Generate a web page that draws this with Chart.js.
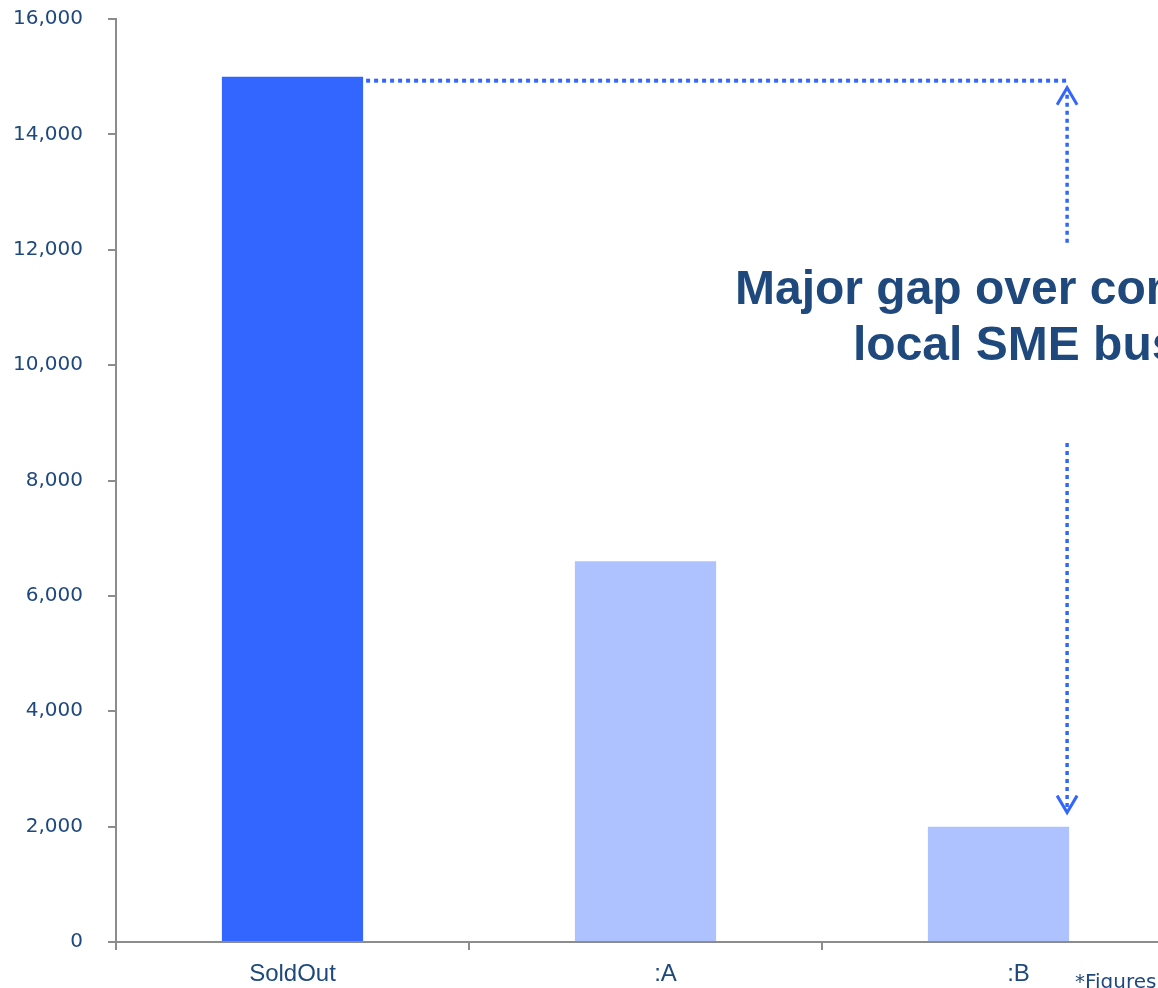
<!DOCTYPE html>
<html>
<head>
<meta charset="utf-8">
<script src="https://cdn.jsdelivr.net/npm/chart.js@4"></script>
<style>
  html, body { margin: 0; padding: 0; background: #fff; overflow: hidden; }
  #wrap { width: 1158px; height: 988px; overflow: hidden; }
</style>
</head>
<body>
<div id="wrap"><canvas id="myChart" width="1200" height="988"></canvas></div>
<script>
var categories = ['SoldOut', '      :A', '      :B'];
var values = [15000, 6600, 2000];
var barColors = ['#3366FF', '#ADC2FF', '#ADC2FF'];
var yMax = 16000;
var yStep = 2000;
var noteLines = ['Major gap over competitors', 'local SME businesses'];
var footnote = '*Figures are estimates';

var textBlue = '#1F497D';
var lineBlue = '#3366FF';

// dotted gap marker + callout text
var gapPlugin = {
  id: 'gapPlugin',
  afterDatasetsDraw: function(chart) {
    var c = chart.ctx;
    var y = chart.scales.y;
    var bars = chart.getDatasetMeta(0).data;
    var xStart = bars[0].x + bars[0].width / 2 + 3;
    var xLine = bars[2].x + bars[2].width / 2 - 2;
    var yTop = y.getPixelForValue(values[0]) + 4;
    var yBot = y.getPixelForValue(values[2]) - 14;

    c.save();
    c.strokeStyle = lineBlue;
    c.lineWidth = 4;
    c.setLineDash([4, 4]);
    c.beginPath();
    c.moveTo(xStart, yTop);
    c.lineTo(xLine, yTop);
    c.stroke();

    c.lineWidth = 3.5;
    c.beginPath();
    c.moveTo(xLine, yTop + 14);
    c.lineTo(xLine, y.getPixelForValue(12100));
    c.moveTo(xLine, y.getPixelForValue(8650));
    c.lineTo(xLine, yBot - 2);
    c.stroke();

    // arrow heads
    c.setLineDash([]);
    c.lineWidth = 3;
    c.lineJoin = 'miter';
    c.beginPath();
    c.moveTo(xLine - 10, yTop + 24);
    c.lineTo(xLine, yTop + 7);
    c.lineTo(xLine + 10, yTop + 24);
    c.moveTo(xLine - 10, yBot - 17);
    c.lineTo(xLine, yBot);
    c.lineTo(xLine + 10, yBot - 17);
    c.stroke();

    c.fillStyle = textBlue;
    c.font = 'bold 48px "Liberation Sans", Arial, sans-serif';
    c.textAlign = 'left';
    c.textBaseline = 'alphabetic';
    c.fillText(noteLines[0], 735, 304);
    c.fillText(noteLines[1], 853, 360);

    c.font = '20px "DejaVu Sans", Verdana, sans-serif';
    c.fillText(footnote, 1075, 988);
    c.restore();
  }
};

var ctx = document.getElementById('myChart').getContext('2d');
var myChart = new Chart(ctx, {
  type: 'bar',
  data: {
    labels: categories,
    datasets: [{
      data: values,
      backgroundColor: barColors,
      borderWidth: 0,
      barPercentage: 0.4,
      categoryPercentage: 1.0
    }]
  },
  options: {
    responsive: false,
    animation: false,
    layout: { padding: { top: 19, right: 25, left: 0, bottom: 0 } },
    plugins: {
      legend: { display: false },
      tooltip: { enabled: false }
    },
    scales: {
      x: {
        offset: true,
        grid: {
          offset: true,
          drawOnChartArea: false,
          drawTicks: true,
          tickLength: 8,
          color: '#8C8C8C',
          lineWidth: 2
        },
        border: { color: '#8C8C8C', width: 2 },
        ticks: {
          color: textBlue,
          font: { family: '"Liberation Sans", Arial, sans-serif', size: 24 },
          padding: 10,
          maxRotation: 0
        },
        afterFit: function(scale) { scale.height = 46; }
      },
      y: {
        min: 0,
        max: yMax,
        grid: {
          drawOnChartArea: false,
          drawTicks: true,
          tickLength: 8,
          color: '#8C8C8C',
          lineWidth: 2
        },
        border: { color: '#8C8C8C', width: 2 },
        ticks: {
          stepSize: yStep,
          color: textBlue,
          padding: 25,
          font: { family: '"DejaVu Sans", Verdana, sans-serif', size: 20 },
          callback: function(v) { return v.toLocaleString('en-US'); }
        },
        afterFit: function(scale) {
          scale.width = 116;
          scale.paddingTop = 0;
          scale.paddingBottom = 0;
        }
      }
    }
  },
  plugins: [gapPlugin]
});
</script>
</body>
</html>
